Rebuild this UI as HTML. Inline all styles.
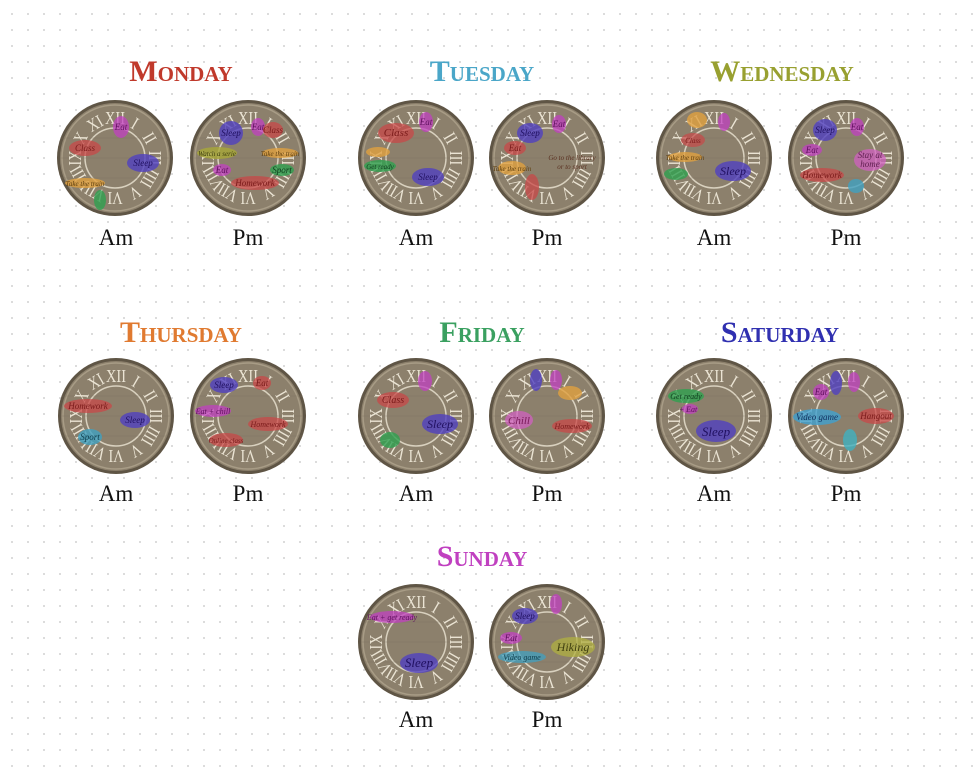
<!DOCTYPE html>
<html><head><meta charset="utf-8">
<style>
html,body{margin:0;padding:0;}
body{width:973px;height:780px;overflow:hidden;background:#fff;
background-image:radial-gradient(circle,#d6d6d6 0.9px,transparent 1.2px);background-size:16px 16px;background-position:4px 6px;}
svg{position:absolute;left:0;top:0;}
.t{font-family:"Liberation Serif",serif;font-weight:bold;font-size:21px;text-anchor:middle;}
.t tspan{font-size:30px;}
.ap{font-family:"Liberation Serif",serif;font-size:23px;text-anchor:middle;fill:#111;}
.n{font-family:"Liberation Serif",serif;font-size:18px;fill:#ebe4d4;text-anchor:middle;}
.l{font-family:"Liberation Serif",serif;font-style:italic;font-size:9px;text-anchor:middle;}
</style></head><body>
<svg width="973" height="780" viewBox="0 0 973 780">
<defs>
<g id="c">
<circle r="58" fill="#5f5545"/>
<circle r="55" fill="#8c806c"/>
<circle r="53" fill="none" stroke="#a89c86" stroke-width="1.5"/>
<circle r="30" fill="none" stroke="#d9d1bf" stroke-width="1.5"/>
<g stroke="#7a6e5c" stroke-width="0.6" opacity="0.6"><line x1="-55" y1="-20" x2="55" y2="-20"/><line x1="-55" y1="0" x2="55" y2="0"/><line x1="-55" y1="20" x2="55" y2="20"/></g>
<g transform="scale(0.8,1)">
</g>
<text class="n" transform="rotate(0) translate(0,-34) scale(0.8,1)">XII</text>
<text class="n" transform="rotate(30) translate(0,-34) scale(0.8,1)">I</text>
<text class="n" transform="rotate(60) translate(0,-34) scale(0.8,1)">II</text>
<text class="n" transform="rotate(90) translate(0,-34) scale(0.8,1)">III</text>
<text class="n" transform="rotate(120) translate(0,-34) scale(0.8,1)">IIII</text>
<text class="n" transform="rotate(150) translate(0,-34) scale(0.8,1)">V</text>
<text class="n" transform="rotate(180) translate(0,-34) scale(0.8,1)">VI</text>
<text class="n" transform="rotate(210) translate(0,-34) scale(0.8,1)">VII</text>
<text class="n" transform="rotate(240) translate(0,-34) scale(0.8,1)">VIII</text>
<text class="n" transform="rotate(270) translate(0,-34) scale(0.8,1)">IX</text>
<text class="n" transform="rotate(300) translate(0,-34) scale(0.8,1)">X</text>
<text class="n" transform="rotate(330) translate(0,-34) scale(0.8,1)">XI</text>
</g>
</defs>

<!-- titles -->
<text class="t" x="181" y="81" fill="#c0392b"><tspan>M</tspan>ONDAY</text>
<text class="t" x="482" y="81" fill="#4aa6c8"><tspan>T</tspan>UESDAY</text>
<text class="t" x="782" y="81" fill="#98a030"><tspan>W</tspan>EDNESDAY</text>
<text class="t" x="181" y="342" fill="#e07a30"><tspan>T</tspan>HURSDAY</text>
<text class="t" x="482" y="342" fill="#3aa060"><tspan>F</tspan>RIDAY</text>
<text class="t" x="780" y="342" fill="#3030b0"><tspan>S</tspan>ATURDAY</text>
<text class="t" x="482" y="566" fill="#c040c0"><tspan>S</tspan>UNDAY</text>

<!-- Am/Pm -->
<g class="ap">
<text x="116" y="245">Am</text><text x="248" y="245">Pm</text>
<text x="416" y="245">Am</text><text x="547" y="245">Pm</text>
<text x="714" y="245">Am</text><text x="846" y="245">Pm</text>
<text x="116" y="501">Am</text><text x="248" y="501">Pm</text>
<text x="416" y="501">Am</text><text x="547" y="501">Pm</text>
<text x="714" y="501">Am</text><text x="846" y="501">Pm</text>
<text x="416" y="727">Am</text><text x="547" y="727">Pm</text>
</g>

<!-- clocks -->
<use href="#c" x="115" y="158"/><use href="#c" x="248" y="158"/>
<use href="#c" x="416" y="158"/><use href="#c" x="547" y="158"/>
<use href="#c" x="714" y="158"/><use href="#c" x="846" y="158"/>
<use href="#c" x="116" y="416"/><use href="#c" x="248" y="416"/>
<use href="#c" x="416" y="416"/><use href="#c" x="547" y="416"/>
<use href="#c" x="714" y="416"/><use href="#c" x="846" y="416"/>
<use href="#c" x="416" y="642"/><use href="#c" x="547" y="642"/>

<!-- labels -->
<g class="l">
<ellipse cx="85" cy="148" rx="16" ry="8" fill="#c84848" opacity=".75"/><text x="85" y="151" fill="#7a1a1a">Class</text>
<ellipse cx="121" cy="127" rx="8" ry="11" fill="#c040c0" opacity=".75"/><text x="121" y="130" fill="#601060">Eat</text>
<ellipse cx="143" cy="163" rx="16" ry="9" fill="#5040c0" opacity=".8"/><text x="143" y="166" fill="#201060">Sleep</text>
<ellipse cx="85" cy="183" rx="20" ry="5" fill="#e0a040" opacity=".8"/><text x="85" y="186" fill="#604010" font-size="7">Take the train</text>
<ellipse cx="100" cy="200" rx="6" ry="10" fill="#30a050" opacity=".8"/>
<ellipse cx="231" cy="133" rx="12" ry="12" fill="#5040c0" opacity=".8"/><text x="231" y="136" fill="#201060">Sleep</text>
<ellipse cx="258" cy="127" rx="7" ry="9" fill="#c040c0" opacity=".75"/><text x="258" y="130" fill="#601060">Eat</text>
<ellipse cx="273" cy="130" rx="10" ry="8" fill="#c84848" opacity=".75"/><text x="273" y="133" fill="#7a1a1a">Class</text>
<ellipse cx="217" cy="153" rx="20" ry="6" fill="#a8a838" opacity=".8"/><text x="217" y="156" fill="#404010" font-size="7">Watch a serie</text>
<ellipse cx="280" cy="153" rx="18" ry="5" fill="#e0a040" opacity=".8"/><text x="280" y="156" fill="#604010" font-size="7">Take the train</text>
<ellipse cx="222" cy="170" rx="9" ry="6" fill="#c040c0" opacity=".75"/><text x="222" y="173" fill="#601060">Eat</text>
<ellipse cx="282" cy="170" rx="12" ry="6" fill="#30a050" opacity=".8"/><text x="282" y="173" fill="#104020">Sport</text>
<ellipse cx="255" cy="183" rx="24" ry="7" fill="#c84848" opacity=".75"/><text x="255" y="186" fill="#7a1a1a">Homework</text>
<ellipse cx="396" cy="133" rx="18" ry="10" fill="#c84848" opacity=".75"/><text x="396" y="136" fill="#7a1a1a" font-size="11">Class</text>
<ellipse cx="426" cy="122" rx="7" ry="10" fill="#c040c0" opacity=".75"/><text x="426" y="125" fill="#601060">Eat</text>
<ellipse cx="378" cy="152" rx="12" ry="5" fill="#e0a040" opacity=".8"/>
<ellipse cx="380" cy="166" rx="16" ry="6" fill="#30a050" opacity=".8"/><text x="380" y="169" fill="#104020" font-size="7">Get ready</text>
<ellipse cx="428" cy="177" rx="16" ry="9" fill="#5040c0" opacity=".8"/><text x="428" y="180" fill="#201060">Sleep</text>
<ellipse cx="530" cy="133" rx="13" ry="10" fill="#5040c0" opacity=".8"/><text x="530" y="136" fill="#201060">Sleep</text>
<ellipse cx="559" cy="124" rx="7" ry="9" fill="#c040c0" opacity=".75"/><text x="559" y="127" fill="#601060">Eat</text>
<ellipse cx="515" cy="148" rx="11" ry="7" fill="#c84848" opacity=".75"/><text x="515" y="151" fill="#7a1a1a">Eat</text>
<ellipse cx="512" cy="168" rx="14" ry="7" fill="#e0a040" opacity=".8"/><text x="512" y="171" fill="#604010" font-size="7">Take the train</text>
<ellipse cx="532" cy="187" rx="7" ry="13" fill="#c84848" opacity=".75"/>
<text x="572" y="160" fill="#5a3020" font-size="7">Go to the library</text><text x="572" y="169" fill="#5a3020" font-size="7">or to sport</text>
<ellipse cx="693" cy="140" rx="12" ry="7" fill="#c84848" opacity=".7"/><text x="693" y="143" fill="#7a1a1a" font-size="7">Class</text>
<ellipse cx="697" cy="120" rx="10" ry="8" fill="#e0a040" opacity=".8"/>
<ellipse cx="724" cy="122" rx="6" ry="9" fill="#c040c0" opacity=".75"/>
<ellipse cx="685" cy="157" rx="17" ry="5" fill="#e0a040" opacity=".8"/><text x="685" y="160" fill="#604010" font-size="7">Take the train</text>
<ellipse cx="676" cy="174" rx="12" ry="6" fill="#30a050" opacity=".8"/>
<ellipse cx="733" cy="171" rx="18" ry="10" fill="#5040c0" opacity=".8"/><text x="733" y="175" fill="#201060" font-size="12">Sleep</text>
<ellipse cx="825" cy="130" rx="12" ry="11" fill="#5040c0" opacity=".8"/><text x="825" y="133" fill="#201060">Sleep</text>
<ellipse cx="857" cy="127" rx="7" ry="9" fill="#c040c0" opacity=".75"/><text x="857" y="130" fill="#601060">Eat</text>
<ellipse cx="812" cy="150" rx="10" ry="6" fill="#c040c0" opacity=".75"/><text x="812" y="153" fill="#601060">Eat</text>
<ellipse cx="870" cy="160" rx="16" ry="11" fill="#d060c0" opacity=".75"/><text x="870" y="158" fill="#602050">Stay at</text><text x="870" y="167" fill="#602050">home</text>
<ellipse cx="822" cy="175" rx="22" ry="7" fill="#c84848" opacity=".75"/><text x="822" y="178" fill="#7a1a1a">Homework</text>
<ellipse cx="856" cy="186" rx="8" ry="7" fill="#40a0c0" opacity=".8"/>
<ellipse cx="88" cy="406" rx="24" ry="7" fill="#c84848" opacity=".75"/><text x="88" y="409" fill="#7a1a1a">Homework</text>
<ellipse cx="135" cy="420" rx="15" ry="8" fill="#5040c0" opacity=".8"/><text x="135" y="423" fill="#201060">Sleep</text>
<ellipse cx="90" cy="437" rx="12" ry="8" fill="#40a0c0" opacity=".8"/><text x="90" y="440" fill="#104050">Sport</text>
<ellipse cx="224" cy="385" rx="14" ry="8" fill="#5040c0" opacity=".8"/><text x="224" y="388" fill="#201060">Sleep</text>
<ellipse cx="262" cy="383" rx="9" ry="7" fill="#c84848" opacity=".75"/><text x="262" y="386" fill="#7a1a1a">Eat</text>
<ellipse cx="213" cy="411" rx="18" ry="6" fill="#c040c0" opacity=".75"/><text x="213" y="414" fill="#601060" font-size="8">Eat + chill</text>
<ellipse cx="268" cy="424" rx="20" ry="7" fill="#c84848" opacity=".75"/><text x="268" y="427" fill="#7a1a1a" font-size="8">Homework</text>
<ellipse cx="226" cy="440" rx="17" ry="7" fill="#c84848" opacity=".75"/><text x="226" y="443" fill="#7a1a1a" font-size="7">Online class</text>
<ellipse cx="393" cy="400" rx="16" ry="8" fill="#c84848" opacity=".75"/><text x="393" y="403" fill="#7a1a1a" font-size="10">Class</text>
<ellipse cx="425" cy="381" rx="7" ry="10" fill="#c040c0" opacity=".75"/>
<ellipse cx="440" cy="424" rx="18" ry="10" fill="#5040c0" opacity=".8"/><text x="440" y="428" fill="#201060" font-size="12">Sleep</text>
<ellipse cx="390" cy="440" rx="10" ry="8" fill="#30a050" opacity=".8"/>
<ellipse cx="536" cy="380" rx="6" ry="11" fill="#5040c0" opacity=".8"/>
<ellipse cx="556" cy="380" rx="6" ry="10" fill="#c040c0" opacity=".75"/>
<ellipse cx="570" cy="393" rx="12" ry="7" fill="#e0a040" opacity=".8"/>
<ellipse cx="519" cy="420" rx="14" ry="9" fill="#d060c0" opacity=".75"/><text x="519" y="424" fill="#7a1a5a" font-size="11">Chill</text>
<ellipse cx="572" cy="426" rx="20" ry="7" fill="#c84848" opacity=".75"/><text x="572" y="429" fill="#7a1a1a" font-size="8">Homework</text>
<ellipse cx="686" cy="396" rx="18" ry="7" fill="#30a050" opacity=".8"/><text x="686" y="399" fill="#104020" font-size="8">Get ready</text>
<ellipse cx="690" cy="409" rx="8" ry="5" fill="#c040c0" opacity=".75"/><text x="688" y="412" fill="#601060" font-size="8">+ Eat</text>
<ellipse cx="716" cy="431" rx="20" ry="11" fill="#5040c0" opacity=".8"/><text x="716" y="436" fill="#201060" font-size="13">Sleep</text>
<ellipse cx="821" cy="392" rx="8" ry="8" fill="#c040c0" opacity=".75"/><text x="821" y="395" fill="#601060">Eat</text>
<ellipse cx="836" cy="383" rx="6" ry="12" fill="#5040c0" opacity=".8"/>
<ellipse cx="854" cy="382" rx="6" ry="10" fill="#c040c0" opacity=".75"/>
<ellipse cx="817" cy="417" rx="24" ry="8" fill="#40a0d0" opacity=".8"/><text x="817" y="420" fill="#103060">Video game</text>
<ellipse cx="876" cy="416" rx="18" ry="8" fill="#c84848" opacity=".75"/><text x="876" y="419" fill="#7a1a1a">Hangout</text>
<ellipse cx="850" cy="440" rx="7" ry="11" fill="#40b0c0" opacity=".8"/>
<ellipse cx="392" cy="617" rx="22" ry="6" fill="#c040c0" opacity=".75"/><text x="392" y="620" fill="#601060" font-size="8">Eat + get ready</text>
<ellipse cx="419" cy="663" rx="19" ry="10" fill="#5040c0" opacity=".8"/><text x="419" y="667" fill="#201060" font-size="13">Sleep</text>
<ellipse cx="525" cy="616" rx="13" ry="8" fill="#5040c0" opacity=".8"/><text x="525" y="619" fill="#201060">Sleep</text>
<ellipse cx="556" cy="604" rx="6" ry="10" fill="#c040c0" opacity=".75"/>
<ellipse cx="511" cy="638" rx="11" ry="6" fill="#c040c0" opacity=".75"/><text x="511" y="641" fill="#601060">Eat</text>
<ellipse cx="573" cy="647" rx="22" ry="10" fill="#b0b040" opacity=".75"/><text x="573" y="651" fill="#404010" font-size="12">Hiking</text>
<ellipse cx="522" cy="657" rx="24" ry="6" fill="#40a0c0" opacity=".75"/><text x="522" y="660" fill="#104050" font-size="8">Video game</text>
</g>
</svg>
</body></html>
